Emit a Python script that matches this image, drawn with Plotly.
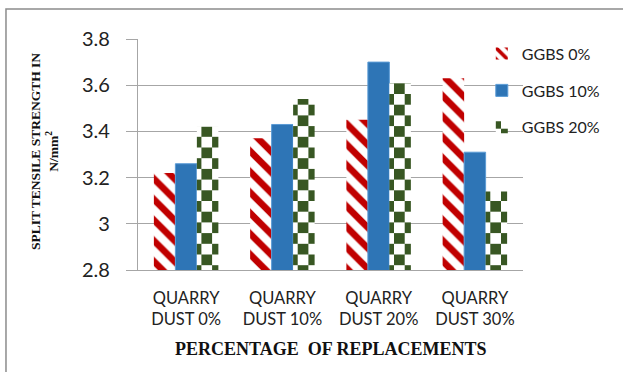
import plotly.graph_objects as go

# Category labels and series values (split tensile strength, N/mm²)
categories = ["QUARRY<br>DUST 0%", "QUARRY<br>DUST 10%", "QUARRY<br>DUST 20%", "QUARRY<br>DUST 30%"]
ggbs_0 = [3.22, 3.37, 3.45, 3.63]
ggbs_10 = [3.26, 3.43, 3.70, 3.31]
ggbs_20 = [3.42, 3.54, 3.61, 3.14]
series_names = ["GGBS 0%", "GGBS 10%", "GGBS 20%"]
y_ticks = [2.8, 3.0, 3.2, 3.4, 3.6, 3.8]
y_tick_text = ["2.8", "3", "3.2", "3.4", "3.6", "3.8"]

RED = "#c00000"
BLUE = "#2e75b6"
GREEN = "#385723"
GRID = "#a6a6a6"
SANS = "Lato, 'Open Sans', sans-serif"
SERIF = "'Liberation Serif', 'Times New Roman', serif"

fig = go.Figure()

fig.add_trace(go.Bar(
    x=categories, y=ggbs_0, name=series_names[0], legendgroup="a",
    marker=dict(color=RED, line=dict(width=0),
                pattern=dict(shape="\\", fgcolor=RED, bgcolor="white", fgopacity=1,
                             size=14.6, solidity=0.46, fillmode="overlay")),
))
fig.add_trace(go.Bar(
    x=categories, y=ggbs_10, name=series_names[1], legendgroup="b",
    marker=dict(color=BLUE, line=dict(width=1, color="#5b9bd5")),
))
fig.add_trace(go.Bar(
    x=categories, y=ggbs_20, name=series_names[2], legendgroup="c",
    marker=dict(color=GREEN, line=dict(width=0),
                pattern=dict(shape="+", fgcolor=GREEN, bgcolor="white", fgopacity=1,
                             size=10.7, solidity=0.3, fillmode="overlay")),
))

fig.update_layout(
    width=623, height=372,
    margin=dict(l=138, r=100, t=39, b=102),
    paper_bgcolor="white", plot_bgcolor="white",
    barmode="group", bargap=0.33, bargroupgap=0,
    font=dict(family=SANS, color="#222222"),
    legend=dict(
        x=0.893, xanchor="left", y=1.01, yanchor="top",
        font=dict(family=SANS, size=16, color="#222222"),
        bgcolor="rgba(0,0,0,0)", tracegroupgap=13, traceorder="grouped",
    ),
    xaxis=dict(
        showline=True, linecolor=GRID, linewidth=1.3, ticks="",
        tickfont=dict(family=SANS, size=16.5, color="#222222"),
        ticklabelstandoff=13,
        showgrid=False, automargin=False,
    ),
    yaxis=dict(
        range=[2.8, 3.8], tickvals=y_ticks, ticktext=y_tick_text,
        showline=True, linecolor=GRID, linewidth=1.3,
        ticks="outside", ticklen=11, tickcolor=GRID, tickwidth=1.3,
        ticklabelstandoff=12,
        tickfont=dict(family=SANS, size=20, color="#222222"),
        showgrid=True, gridcolor=GRID, gridwidth=1.3,
        zeroline=False, automargin=False,
    ),
    annotations=[
        dict(text="SPLIT TENSILE STRENGTH IN<br>N/mm<sup>2</sup>",
             xref="paper", yref="paper", x=-0.2426, y=0.513,
             xanchor="center", yanchor="middle", textangle=-90, showarrow=False,
             font=dict(family=SERIF, size=13.5, color="#111111", weight="bold")),
        dict(text="PERCENTAGE  OF REPLACEMENTS",
             xref="paper", yref="paper", x=0.5, y=-0.342,
             xanchor="center", yanchor="middle", showarrow=False,
             font=dict(family=SERIF, size=18, color="#111111", weight="bold")),
    ],
    shapes=[
        # chart area frame
        dict(type="rect", xref="paper", yref="paper",
             x0=-0.3429, y0=-0.5, x1=1.3, y1=1.1299,
             line=dict(color="#8c8c8c", width=1.5), fillcolor="rgba(0,0,0,0)",
             layer="below"),
    ],
)

# Checkerboard fill for the GGBS 20% series
post = """
var gd = document.getElementById('{plot_id}');
function checker(){
  var ns = 'http://www.w3.org/2000/svg';
  var svg = gd.querySelector('svg.main-svg');
  var defs = svg.querySelector('defs');
  if(!document.getElementById('chk-fill')){
    var s = 10.7;
    var p = document.createElementNS(ns, 'pattern');
    p.setAttribute('id', 'chk-fill');
    p.setAttribute('patternUnits', 'userSpaceOnUse');
    p.setAttribute('x', 9.9); p.setAttribute('y', 12.2);
    p.setAttribute('width', 2 * s); p.setAttribute('height', 2 * s);
    var bg = document.createElementNS(ns, 'rect');
    bg.setAttribute('width', 2 * s); bg.setAttribute('height', 2 * s);
    bg.setAttribute('fill', 'white');
    p.appendChild(bg);
    [[0, 0], [s, s]].forEach(function(c){
      var r = document.createElementNS(ns, 'rect');
      r.setAttribute('x', c[0]); r.setAttribute('y', c[1]);
      r.setAttribute('width', s); r.setAttribute('height', s);
      r.setAttribute('fill', '#385723');
      p.appendChild(r);
    });
    defs.appendChild(p);
  }
  var traces = gd.querySelectorAll('g.trace.bars');
  if(traces.length > 2){
    traces[2].querySelectorAll('path').forEach(function(el){ el.style.fill = 'url(#chk-fill)'; });
  }
  var leg = gd.querySelectorAll('.legend .traces');
  if(leg.length > 2){
    leg[2].querySelectorAll('.legendpoints path').forEach(function(el){ el.style.fill = 'url(#chk-fill)'; });
  }
}
checker();
gd.on('plotly_afterplot', checker);
"""

fig.write_html("out.html", post_script=post)
